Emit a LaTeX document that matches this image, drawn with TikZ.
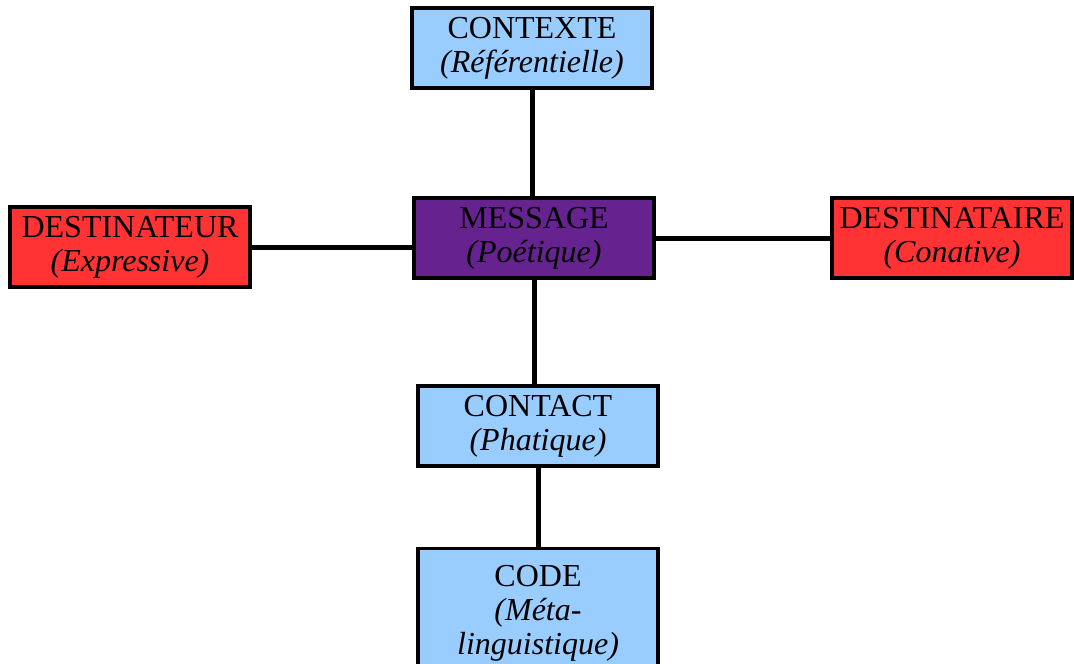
\documentclass[tikz,border=0pt]{standalone}
\usepackage{fontspec}
\setmainfont{Liberation Serif}
\usepackage{tikz}
\usetikzlibrary{arrows,shapes,fit}
\definecolor{bleu}{HTML}{99CCFF}
\definecolor{rouge}{HTML}{FF3333}
\definecolor{violet}{HTML}{66228E}

\begin{document}
\begin{tikzpicture}
                [
                x=1pt,y=-1pt,
                fonction/.style={rectangle,draw=black,line width=3.2pt,minimum width=240pt,minimum height=80pt,inner sep=0pt,align=center,font=\fontsize{32}{34}\selectfont},
                edge/.style={line width=5pt}
                ]
            \useasboundingbox (0,0) rectangle (1074,664);
            \node[fonction,fill=bleu] (contexte) at (532,48) {CONTEXTE\\\textit{(Référentielle)}};
            \node[fonction,fill=violet] (message) at (534,238) {MESSAGE\\\textit{(Poétique)}};
            \node[fonction,fill=rouge] (destinateur) at (130,247) {DESTINATEUR\\\textit{(Expressive)}};
            \node[fonction,fill=rouge] (destinataire) at (952,238) {DESTINATAIRE\\\textit{(Conative)}};
            \node[fonction,fill=bleu] (contact) at (538,426) {CONTACT\\\textit{(Phatique)}};
            \node[fonction,fill=bleu,anchor=north,minimum height=122pt,text depth=0pt] (code) at (538,547) {CODE\\\textit{(Méta-}\\\textit{linguistique)}};
            \draw[edge] (contexte.south) -- (contexte.south |- message.north);
            \draw[edge] (destinateur.east) -- (destinateur.east -| message.west);
            \draw[edge] (message.east) -- (destinataire.west);
            \draw[edge] (message.south) -- (message.south |- contact.north);
            \draw[edge] (contact.south) -- (contact.south |- code.north);
            \end{tikzpicture}
\end{document}
